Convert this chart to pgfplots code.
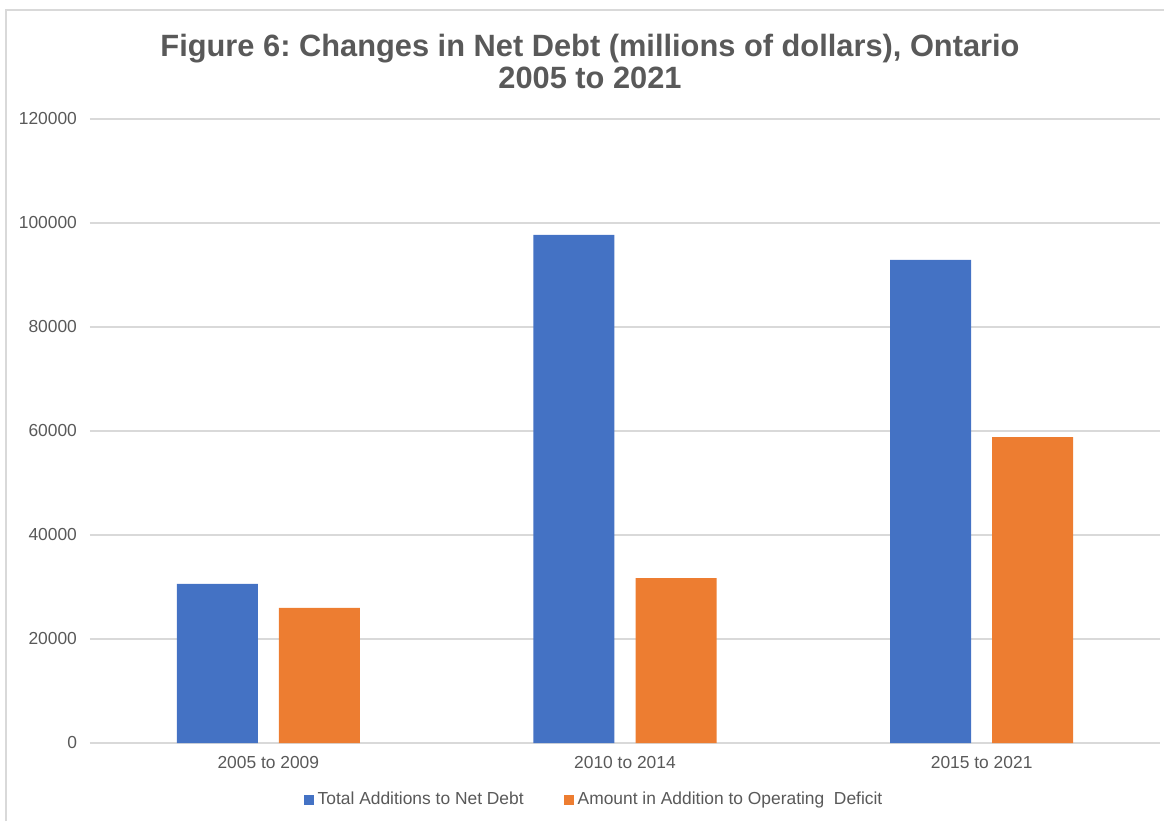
\documentclass[border=0pt]{standalone}
\usepackage{pgfplots}
\pgfplotsset{compat=1.18}
\usepackage{fontspec}
\setmainfont{Liberation Sans}
\frenchspacing
\definecolor{cblue}{HTML}{4472C4}
\definecolor{corange}{HTML}{ED7D31}
\definecolor{txt}{HTML}{595959}
\definecolor{gridc}{HTML}{D9D9D9}
\begin{document}
\begin{tikzpicture}
\path[use as bounding box] (-45pt,-39pt) rectangle ++(582pt,410.5pt);
\draw[gridc, line width=1pt] (-42pt,-39pt) -- (-42pt,366.5pt) -- (537pt,366.5pt);
\begin{axis}[
  at={(0pt,0pt)}, anchor=south west,
  scale only axis, width=535pt, height=312pt,
  ybar=10.5pt, bar width=40.5pt,
  xmin=-0.5, xmax=2.5, ymin=0, ymax=120000,
  xtick={0,1,2}, xticklabels={2005 to 2009,2010 to 2014,2015 to 2021},
  ytick={0,20000,40000,60000,80000,100000,120000},
  scaled y ticks=false,
  yticklabel style={/pgf/number format/fixed,/pgf/number format/1000 sep={}},
  /pgf/number format/assume math mode=true,
  tick label style={font=\fontsize{8.7}{10}\selectfont, text=txt},
  major tick length=0pt,
  ymajorgrids, grid style={gridc, line width=0.8pt},
  axis x line*=bottom, axis y line*=left,
  x axis line style={gridc, line width=0.8pt, -},
  y axis line style={draw=none},
  xticklabel style={yshift=-3pt},
  yticklabel style={xshift=-3pt},
  legend style={at={(0.472,-0.0913)}, anchor=center, draw=none, legend columns=2,
    font=\fontsize{8.7}{10}\selectfont, text=txt,
    /tikz/every even column/.append style={column sep=18pt}},
  legend image code/.code={\fill[#1] (0pt,-2.5pt) rectangle (5pt,2.5pt);},
  legend cell align=left,
]
\addplot[fill=cblue, draw=none] coordinates {(0,30600) (1,97700) (2,92900)};
\addplot[fill=corange, draw=none] coordinates {(0,26000) (1,31700) (2,58800)};
\legend{Total Additions to Net Debt,Amount in Addition to Operating\ \ Deficit}
\end{axis}
\node[align=center, font=\bfseries\fontsize{15.4}{16}\selectfont, text=txt] at (250pt,341pt) {Figure 6: Changes in Net Debt (millions of dollars), Ontario\\2005 to 2021};
\end{tikzpicture}
\end{document}
